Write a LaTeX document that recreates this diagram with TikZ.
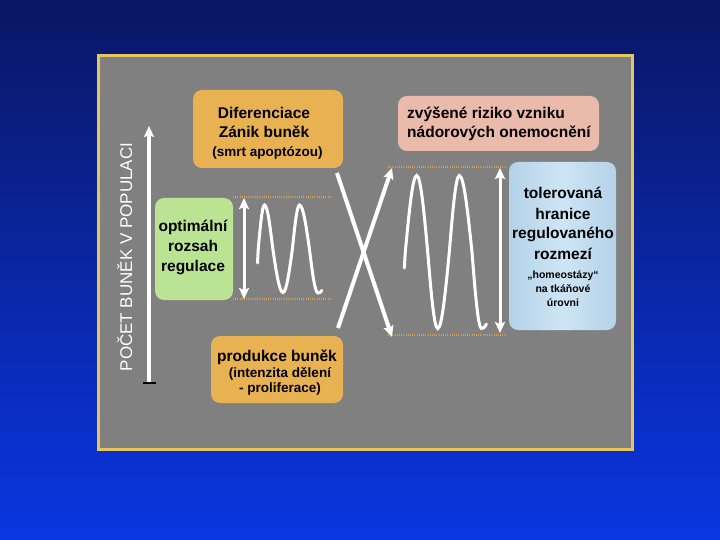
\documentclass[tikz,border=0pt]{standalone}
\usepackage{fontspec}
\setmainfont{Liberation Sans}
\usetikzlibrary{arrows.meta}
\definecolor{bgtop}{RGB}{10,22,100}
\definecolor{bgbot}{RGB}{10,54,226}
\definecolor{panelc}{RGB}{128,128,128}
\definecolor{goldc}{RGB}{228,198,92}
\definecolor{orbox}{RGB}{232,178,82}
\definecolor{pkbox}{RGB}{234,186,170}
\definecolor{blbox}{RGB}{206,229,245}
\definecolor{blboxE}{RGB}{180,210,232}
\definecolor{grbox}{RGB}{186,227,148}
\definecolor{dotc}{RGB}{205,160,90}
\tikzset{
  box/.style={rounded corners=9pt, inner sep=0pt},
  txt/.style={font=\fontsize{15.5}{18}\selectfont\bfseries, anchor=base, inner sep=0pt, text=black},
  sm/.style={font=\fontsize{13.5}{16}\selectfont\bfseries, anchor=base, inner sep=0pt, text=black},
  xs/.style={font=\fontsize{10.5}{12}\selectfont\bfseries, anchor=base, inner sep=0pt, text=black},
  dotline/.style={dotc, line width=1.6pt, dash pattern=on 1pt off 1.2pt},
  wline/.style={white, line width=3pt},
  xline/.style={white, line width=4pt},
  tip/.style={-{Stealth[length=11pt,width=10pt,inset=2pt]}},
  dtip/.style={{Stealth[length=11pt,width=10pt,inset=2pt]}-{Stealth[length=11pt,width=10pt,inset=2pt]}}
}
\begin{document}
\begin{tikzpicture}[x=1pt,y=-1pt]
\useasboundingbox (0,0) rectangle (720,540);
\shade[top color=bgtop, bottom color=bgbot] (0,0) rectangle (720,540);
\node[draw=goldc, line width=3pt, fill=panelc, minimum width=534pt, minimum height=394pt, inner sep=0pt] (panel) at (365.5,252.5) {};

% axis
\coordinate (axb) at (149,383);
\coordinate (axt) at (149,126);
\draw[white, line width=4pt, tip] (axb) -- (axt);
\coordinate (tkl) at (143,383);
\coordinate (tkr) at (156,383);
\draw[black, line width=2.5pt] (tkl) -- (tkr);
\node[font=\fontsize{17}{19}\selectfont, text=white, rotate=90, anchor=base, inner sep=0pt] (axlab) at (132,257) {POČET BUNĚK V POPULACI};

% boxes
\node[box, fill=orbox, minimum width=150pt, minimum height=78pt] (dif) at (268,129) {};
\node[box, fill=pkbox, minimum width=201pt, minimum height=55pt] (risk) at (498.5,123.5) {};
\node[box, left color=blboxE, right color=blboxE, middle color=blbox, minimum width=107pt, minimum height=168pt] (tol) at (562.5,246) {};
\node[box, fill=grbox, minimum width=78pt, minimum height=102pt] (opt) at (194,249) {};
\node[box, fill=orbox, minimum width=132pt, minimum height=67pt] (prod) at (277,369.5) {};

% texts
\node[txt] (d1) at (264,118.5) {Diferenciace};
\node[txt] (d2) at (264,138) {Zánik buněk};
\node[sm] (d3) at (267.5,156.5) {(smrt apoptózou)};

\node[txt, anchor=base west] (r1) at (407,119) {zvýšené riziko vzniku};
\node[txt, anchor=base west] (r2) at (407,138) {nádorových onemocnění};

\node[txt] (b1) at (563,199) {tolerovaná};
\node[txt] (b2) at (563,219) {hranice};
\node[txt] (b3) at (563,239) {regulovaného};
\node[txt] (b4) at (563,259) {rozmezí};
\node[xs] (b5) at (563,278) {„homeostázy“};
\node[xs] (b6) at (563,292.5) {na tkáňové};
\node[xs] (b7) at (563,306.5) {úrovni};

\node[txt] (g1) at (193,232) {optimální};
\node[txt] (g2) at (193,251.5) {rozsah};
\node[txt] (g3) at (193,271) {regulace};

\node[txt] (p1) at (277,361) {produkce buněk};
\node[sm] (p2) at (280,377.5) {(intenzita dělení};
\node[sm] (p3) at (280,392.5) {- proliferace)};

% dotted limits
\coordinate (la1) at (233,197); \coordinate (la2) at (331,197);
\coordinate (lb1) at (233,299); \coordinate (lb2) at (331,299);
\coordinate (ra1) at (388,167); \coordinate (ra2) at (505,167);
\coordinate (rb1) at (388,335); \coordinate (rb2) at (505,335);
\draw[dotline] (la1) -- (la2);
\draw[dotline] (lb1) -- (lb2);
\draw[dotline] (ra1) -- (ra2);
\draw[dotline] (rb1) -- (rb2);

% double arrows
\coordinate (lda) at (244,198); \coordinate (ldb) at (244,299);
\coordinate (rda) at (500,168); \coordinate (rdb) at (500,333);
\draw[white, line width=3pt, dtip] (lda) -- (ldb);
\draw[white, line width=3pt, dtip] (rda) -- (rdb);

% waves
\draw[wline, line cap=round] (257.5,263) -- (258.3,248) sin (264.5,205) cos (272.7,248) sin (283,292.5) cos (292.5,248) sin (299.5,205) cos (309.3,248) sin (318,293) .. controls (319.5,293) and (320.8,292.3) .. (321.8,290.5);
\draw[wline, line cap=round] (404.3,268) -- (405.3,252) sin (416.7,175.5) cos (427.7,252) sin (437.7,328.5) cos (449.3,252) sin (459.3,175.5) cos (472,252) sin (481.5,328.5) .. controls (483.5,328.5) and (485.3,327) .. (486.5,324);

% X arrows
\coordinate (x1s) at (337,173); \coordinate (x1e) at (392,337);
\coordinate (x2s) at (338,328); \coordinate (x2e) at (392,168);
\draw[xline, tip] (x1s) -- (x1e);
\draw[xline, tip] (x2s) -- (x2e);
\end{tikzpicture}
\end{document}
